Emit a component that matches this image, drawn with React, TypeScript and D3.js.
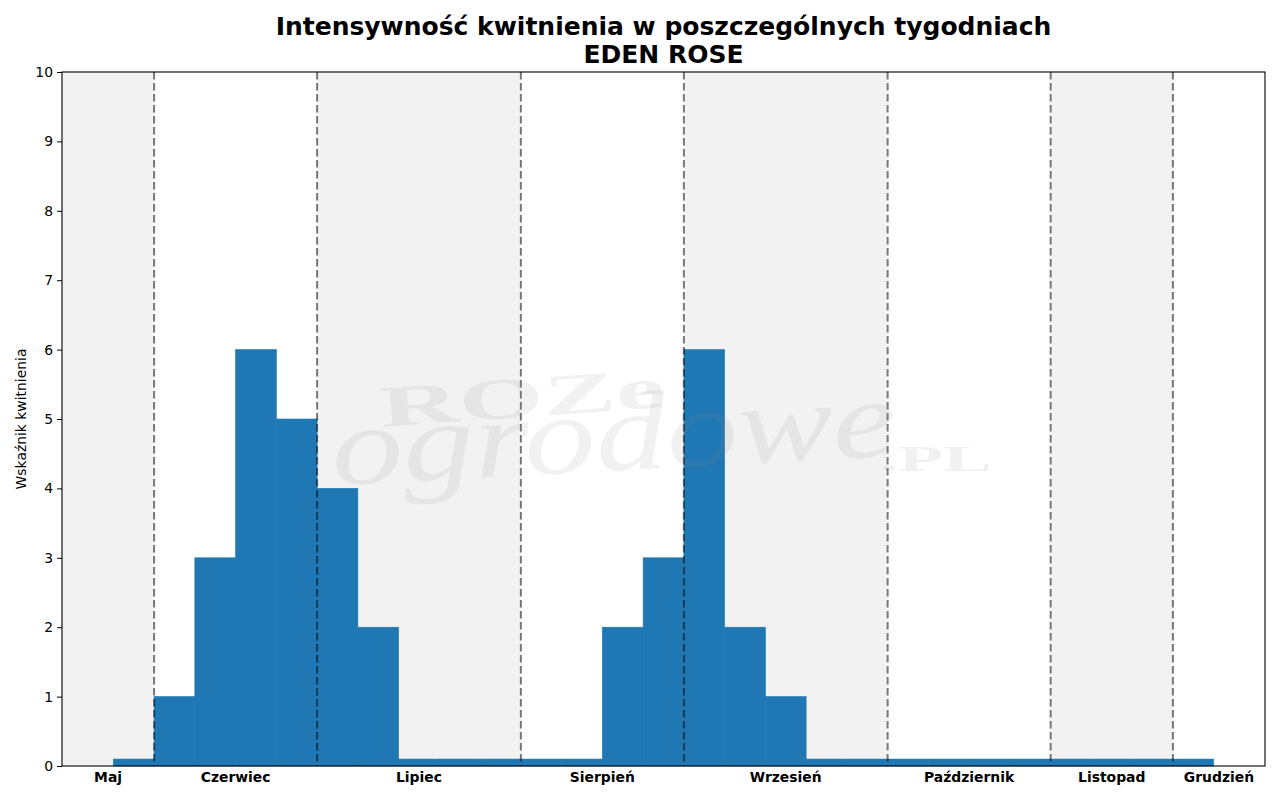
import { useEffect, useRef } from "react";
import * as d3 from "d3";

// Weekly bloom intensity, starting with the last week of May
const weekValues = [
    0.1, 1, 3, 6, 5, 4, 2, 0.1, 0.1, 0.1, 0.1, 0.1, 2, 3, 6, 2, 1, 0.1, 0.1, 0.1, 0.1, 0.1, 0.1, 0.1, 0.1,
    0.1, 0.1,
];
const months = ["Maj", "Czerwiec", "Lipiec", "Sierpień", "Wrzesień", "Październik", "Listopad", "Grudzień"];
// week index where each month after May begins
const monthStarts = [1, 5, 10, 14, 19, 23, 26];
const yTicks = [0, 1, 2, 3, 4, 5, 6, 7, 8, 9, 10];

const titleLine1 = "Intensywność kwitnienia w poszczególnych tygodniach";
const titleLine2 = "EDEN ROSE";
const yLabel = "Wskaźnik kwitnienia";

export default function App() {
    const chartRef = useRef<SVGSVGElement>(null);

    useEffect(() => {
        if (!chartRef.current) return;
        d3.select(chartRef.current).selectAll("*").remove();

        const W = 1280;
        const H = 800;
        const margin = { top: 72, right: 15, bottom: 34, left: 62 };
        const width = W - margin.left - margin.right;
        const height = H - margin.top - margin.bottom;
        const font = "DejaVu Sans, Verdana, sans-serif";
        const fs = 13.9;

        const svg = d3.select(chartRef.current).attr("width", W).attr("height", H);
        svg.append("rect").attr("width", W).attr("height", H).attr("fill", "#fff");

        const g = svg.append("g").attr("transform", `translate(${margin.left},${margin.top})`);

        const pad = 1.26;
        const x = d3
            .scaleLinear()
            .domain([-pad, weekValues.length + pad])
            .range([0, width]);
        const y = d3.scaleLinear().domain([0, 10]).range([height, 0]);

        // month bands
        const [d0, d1] = x.domain();
        const bands = months.map((m, i) => ({
            name: m,
            start: i === 0 ? d0 : monthStarts[i - 1],
            end: i === months.length - 1 ? d1 : monthStarts[i],
            shaded: i % 2 === 0,
        }));

        g.selectAll(".band")
            .data(bands)
            .enter()
            .append("rect")
            .attr("class", "band")
            .attr("x", (d) => x(d.start))
            .attr("width", (d) => x(d.end) - x(d.start))
            .attr("y", 0)
            .attr("height", height)
            .attr("fill", (d) => (d.shaded ? "#f2f2f2" : "#ffffff"));

        // bars
        g.selectAll(".bar")
            .data(weekValues)
            .enter()
            .append("rect")
            .attr("class", "bar")
            .attr("x", (d, i) => x(i))
            .attr("width", (d, i) => x(i + 1) - x(i))
            .attr("y", (d) => y(d))
            .attr("height", (d) => height - y(d))
            .attr("fill", "#1f77b4")
            .attr("stroke", "#1f77b4")
            .attr("stroke-width", 0.6);

        // month separators
        g.selectAll(".sep")
            .data(monthStarts)
            .enter()
            .append("line")
            .attr("class", "sep")
            .attr("x1", (d) => x(d))
            .attr("x2", (d) => x(d))
            .attr("y1", 0)
            .attr("y2", height)
            .attr("stroke", "#000")
            .attr("stroke-opacity", 0.52)
            .attr("stroke-width", 2)
            .attr("stroke-dasharray", "7.5,3.5");

        // watermark
        const wm = g.append("g").attr("fill", "#888").attr("fill-opacity", 0.12).attr("pointer-events", "none");
        wm.append("text")
            .attr("x", 318)
            .attr("y", 345)
            .attr("transform", "rotate(-4 460 330)")
            .attr("font-family", "Liberation Serif, serif")
            .attr("font-weight", "bold")
            .attr("font-size", 58)
            .attr("textLength", 285)
            .attr("lengthAdjust", "spacingAndGlyphs")
            .text("ROZe");
        wm.append("text")
            .attr("x", 270)
            .attr("y", 398)
            .attr("transform", "rotate(-3 560 380)")
            .attr("font-family", "Liberation Serif, serif")
            .attr("font-style", "italic")
            .attr("font-size", 112)
            .attr("textLength", 565)
            .attr("lengthAdjust", "spacingAndGlyphs")
            .text("ogrodowe");
        wm.append("text")
            .attr("x", 818)
            .attr("y", 399)
            .attr("font-family", "Liberation Serif, serif")
            .attr("font-weight", "bold")
            .attr("font-size", 36)
            .attr("textLength", 112)
            .attr("lengthAdjust", "spacingAndGlyphs")
            .text(".PL");

        // y axis
        const yAxis = g
            .append("g")
            .call(d3.axisLeft(y).tickValues(yTicks).tickSize(5).tickPadding(4).tickFormat(d3.format("d")));
        yAxis.select(".domain").remove();
        yAxis.selectAll("text").attr("font-family", font).attr("font-size", fs).attr("fill", "#000");
        yAxis.selectAll("line").attr("stroke", "#000");

        // month labels
        g.selectAll(".month")
            .data(bands)
            .enter()
            .append("text")
            .attr("class", "month")
            .attr("x", (d) => (x(d.start) + x(d.end)) / 2)
            .attr("y", height + 16)
            .attr("text-anchor", "middle")
            .attr("font-family", font)
            .attr("font-weight", "bold")
            .attr("font-size", fs)
            .text((d) => d.name);

        // frame
        g.append("rect")
            .attr("width", width)
            .attr("height", height)
            .attr("fill", "none")
            .attr("stroke", "#000")
            .attr("stroke-width", 1.1);

        // y label
        svg.append("text")
            .attr("transform", `translate(26,${margin.top + height / 2}) rotate(-90)`)
            .attr("text-anchor", "middle")
            .attr("font-family", font)
            .attr("font-size", fs)
            .text(yLabel);

        // title
        const title = svg
            .append("text")
            .attr("text-anchor", "middle")
            .attr("font-family", font)
            .attr("font-weight", "bold")
            .attr("font-size", 25);
        title.append("tspan").attr("x", margin.left + width / 2).attr("y", 35).text(titleLine1);
        title.append("tspan").attr("x", margin.left + width / 2).attr("y", 63).text(titleLine2);
    }, []);

    return <svg ref={chartRef} style={{ position: "absolute", left: 0, top: 0, display: "block" }} />;
}
